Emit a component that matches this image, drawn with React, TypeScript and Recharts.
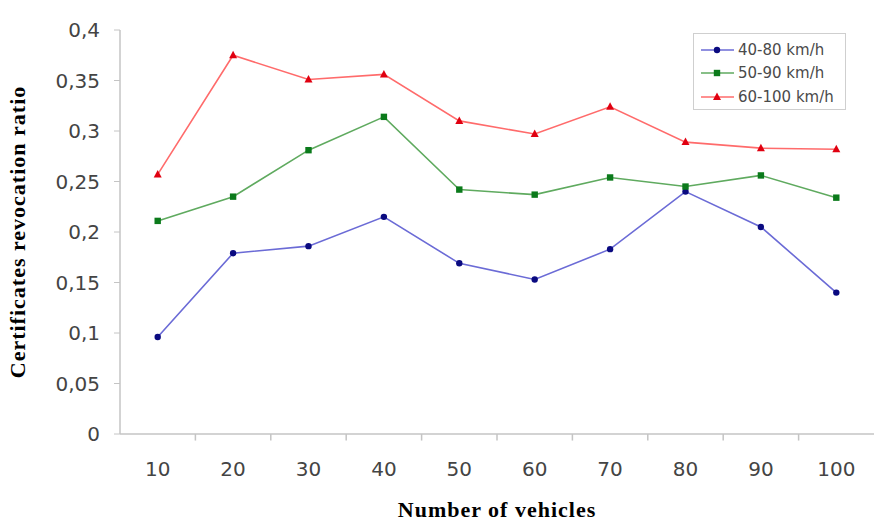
import React from 'react';
import { LineChart, Line, XAxis, YAxis, ReferenceLine } from 'recharts';

const vehicles = [10, 20, 30, 40, 50, 60, 70, 80, 90, 100];
const s4080 = [0.096, 0.179, 0.186, 0.215, 0.169, 0.153, 0.183, 0.24, 0.205, 0.14];
const s5090 = [0.211, 0.235, 0.281, 0.314, 0.242, 0.237, 0.254, 0.245, 0.256, 0.234];
const s60100 = [0.257, 0.375, 0.351, 0.356, 0.31, 0.297, 0.324, 0.289, 0.283, 0.282];
const yTicks = [0, 0.05, 0.1, 0.15, 0.2, 0.25, 0.3, 0.35, 0.4];
const boundaryTicks = [15, 25, 35, 45, 55, 65, 75, 85, 95];

const data = vehicles.map((v, i) => ({ x: v, a: s4080[i], b: s5090[i], c: s60100[i] }));

const series = [
  { key: 'a', name: '40-80 km/h', line: '#6b6bd6', mark: '#0a0a80', shape: 'circle' },
  { key: 'b', name: '50-90 km/h', line: '#5faa5f', mark: '#0b7a1b', shape: 'square' },
  { key: 'c', name: '60-100 km/h', line: '#ff6b6b', mark: '#e00010', shape: 'triangle' },
];

const tickFont = 'DejaVu Sans, Verdana, sans-serif';
const titleFont = 'Liberation Serif, Times New Roman, serif';

const Marker = ({ cx, cy, shape, color }: any) => {
  if (cx == null || cy == null) return null;
  if (shape === 'circle') return <circle cx={cx} cy={cy} r={3.2} fill={color} />;
  if (shape === 'square') return <rect x={cx - 3.2} y={cy - 3.2} width={6.4} height={6.4} fill={color} />;
  return <polygon points={`${cx},${cy - 4.5} ${cx - 4},${cy + 3} ${cx + 4},${cy + 3}`} fill={color} />;
};

const LegendBox = () => (
  <div
    style={{
      position: 'absolute',
      left: 693,
      top: 33,
      border: '1px solid #cfcfcf',
      background: '#fff',
      width: 153,
      height: 77,
      boxSizing: 'border-box',
      padding: '4px 0 0 6px',
      fontFamily: tickFont,
      fontSize: 15,
      color: '#4a4a4a',
    }}
  >
    {series.map((s) => (
      <div key={s.key} style={{ display: 'flex', alignItems: 'center', height: 23.5 }}>
        <svg width={36} height={12} style={{ marginRight: 2 }}>
          <line x1={1} y1={6} x2={34} y2={6} stroke={s.line} strokeWidth={1.5} />
          <Marker cx={17} cy={6} shape={s.shape} color={s.mark} />
        </svg>
        <span style={{ whiteSpace: 'nowrap' }}>{s.name}</span>
      </div>
    ))}
  </div>
);

export default function App() {
  return (
    <div style={{ position: 'absolute', left: 0, top: 0, width: 875, height: 524, background: '#fff' }}>
      <LineChart width={875} height={524} data={data} margin={{ top: 30, right: 1, bottom: 0, left: 0 }}>
        <XAxis
          dataKey="x"
          type="number"
          domain={[5, 105]}
          ticks={vehicles}
          interval={0}
          tickLine={false}
          axisLine={{ stroke: '#c4c4c4', strokeWidth: 1.5 }}
          height={90}
          tickMargin={22}
          tick={{ fill: '#444', fontSize: 20, fontFamily: tickFont }}
          label={{
            value: 'Number of vehicles',
            position: 'insideBottom',
            offset: 7,
            style: { fill: '#000', fontSize: 22, letterSpacing: 1, fontWeight: 'bold', fontFamily: titleFont },
          }}
        />
        <YAxis
          type="number"
          domain={[0, 0.4]}
          ticks={yTicks}
          interval={0}
          width={120}
          tickSize={6}
          tickMargin={14}
          tickLine={{ stroke: '#c4c4c4' }}
          axisLine={{ stroke: '#c4c4c4', strokeWidth: 1.5 }}
          tickFormatter={(v: number) => String(v).replace('.', ',')}
          tick={{ fill: '#444', fontSize: 20, fontFamily: tickFont }}
          label={{
            value: 'Certificates revocation ratio',
            angle: -90,
            position: 'insideLeft',
            offset: 17,
            style: { textAnchor: 'middle', fill: '#000', fontSize: 22, letterSpacing: 1, fontWeight: 'bold', fontFamily: titleFont },
          }}
        />
        {boundaryTicks.map((b) => (
          <ReferenceLine
            key={b}
            segment={[{ x: b, y: 0 }, { x: b, y: -0.0065 }]}
            stroke="#c4c4c4"
            strokeWidth={1.5}
            ifOverflow="visible"
          />
        ))}
        {series.map((s) => (
          <Line
            key={s.key}
            dataKey={s.key}
            name={s.name}
            type="linear"
            stroke={s.line}
            strokeWidth={1.6}
            isAnimationActive={false}
            dot={(p: any) => <Marker key={`${s.key}-${p.index}`} cx={p.cx} cy={p.cy} shape={s.shape} color={s.mark} />}
            activeDot={false}
          />
        ))}
      </LineChart>
      <LegendBox />
    </div>
  );
}
